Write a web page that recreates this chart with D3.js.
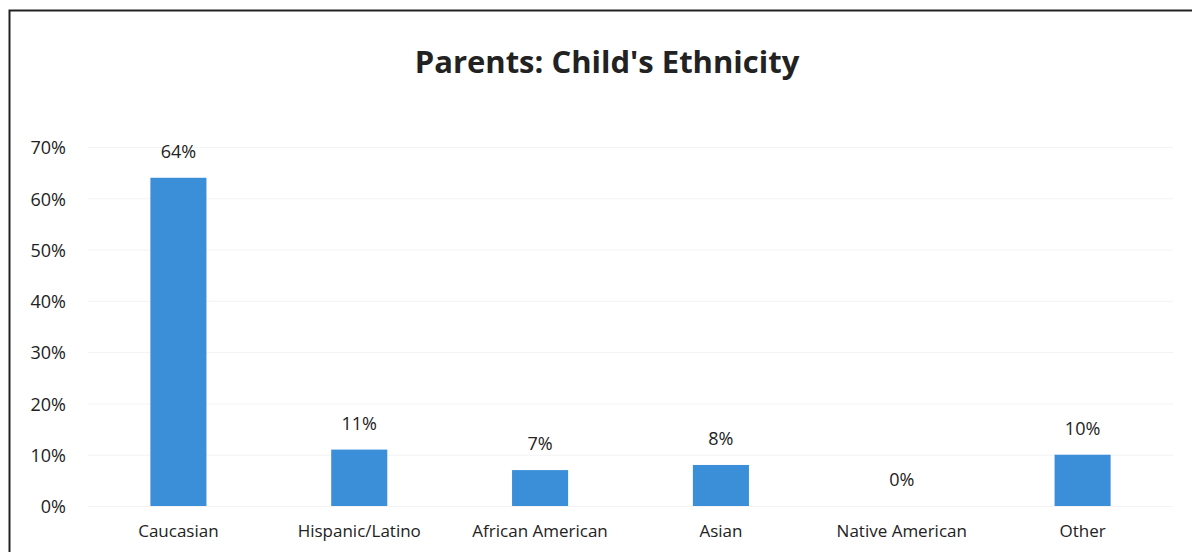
<!DOCTYPE html>
<html>
<head>
<meta charset="utf-8">
<script src="https://cdn.jsdelivr.net/npm/d3@7"></script>
<style>
  html, body { margin: 0; padding: 0; background: #fff; }
  svg { display: block; }
  text { font-family: "Open Sans", "Noto Sans", sans-serif; fill: #222; }
</style>
</head>
<body>
<svg id="chart" width="1192" height="552"></svg>
<script>
const categories = ["Caucasian", "Hispanic/Latino", "African American", "Asian", "Native American", "Other"];
const values = [64, 11, 7, 8, 0, 10];
const yTicks = [0, 10, 20, 30, 40, 50, 60, 70];
const titleText = "Parents: Child's Ethnicity";

const svg = d3.select("#chart");

// outer frame (left and top edges visible)
svg.append("path")
  .attr("d", "M9.5,560 L9.5,10.5 L1200,10.5")
  .attr("fill", "none")
  .attr("stroke", "#222")
  .attr("stroke-width", 2);

const plot = { left: 88, right: 1173, top: 147, bottom: 506 };

const x = d3.scaleBand()
  .domain(categories)
  .range([plot.left, plot.right])
  .paddingInner(0.69)
  .paddingOuter(0.345);

const y = d3.scaleLinear()
  .domain([0, 70])
  .range([plot.bottom, plot.top]);

// faint horizontal gridlines
svg.append("g")
  .selectAll("line")
  .data(yTicks)
  .join("line")
  .attr("x1", plot.left)
  .attr("x2", plot.right)
  .attr("y1", d => y(d) + 0.5)
  .attr("y2", d => y(d) + 0.5)
  .attr("stroke", "#f3f3f3")
  .attr("stroke-width", 1);

// y axis labels
const yAxis = d3.axisLeft(y)
  .tickValues(yTicks)
  .tickFormat(d => d + "%")
  .tickSize(0)
  .tickPadding(0);
const gy = svg.append("g")
  .attr("transform", `translate(66,0)`)
  .call(yAxis);
gy.select(".domain").remove();
gy.selectAll("text")
  .attr("font-size", 18)
  .attr("fill", "#222")
  .attr("font-family", "Open Sans, sans-serif")
  .attr("dy", "0.38em");

// x axis labels
const xAxis = d3.axisBottom(x).tickSize(0).tickPadding(0);
const gx = svg.append("g")
  .attr("transform", `translate(0,${plot.bottom + 19})`)
  .call(xAxis);
gx.select(".domain").remove();
gx.selectAll("text")
  .attr("font-size", 17)
  .attr("fill", "#222")
  .attr("font-family", "Open Sans, sans-serif");

// bars
svg.append("g")
  .selectAll("rect")
  .data(categories)
  .join("rect")
  .attr("x", d => x(d))
  .attr("width", x.bandwidth())
  .attr("y", (d, i) => y(values[i]))
  .attr("height", (d, i) => y(0) - y(values[i]))
  .attr("fill", "#3b8ed8");

// value labels
svg.append("g")
  .selectAll("text")
  .data(categories)
  .join("text")
  .attr("x", d => x(d) + x.bandwidth() / 2)
  .attr("y", (d, i) => y(values[i]) - 20)
  .attr("text-anchor", "middle")
  .attr("font-size", 18)
  .text((d, i) => values[i] + "%");

// title
svg.append("text")
  .attr("x", 607)
  .attr("y", 73)
  .attr("text-anchor", "middle")
  .attr("font-size", 31)
  .attr("font-weight", "bold")
  .text(titleText);
</script>
</body>
</html>
